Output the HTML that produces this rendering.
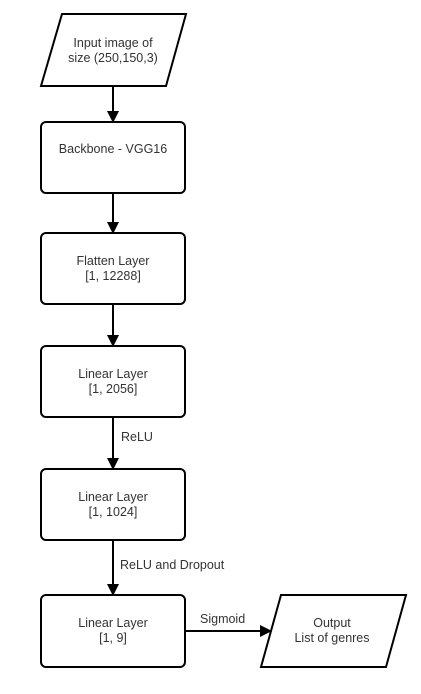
<!DOCTYPE html>
<html><head><style>body{margin:0;background:#fff}</style></head><body>
<svg width="421" height="689" xmlns="http://www.w3.org/2000/svg" font-family="Liberation Sans, Arial, sans-serif" font-size="12.5" fill="#333">
<defs><marker id="a" markerWidth="12" markerHeight="12" refX="10" refY="6" orient="auto" markerUnits="userSpaceOnUse"><path d="M0,0 L12,6 L0,12 Z" fill="#000"/></marker></defs>
<g stroke="#000" stroke-width="2" fill="#fff">
<polygon points="62,14 186,14 166,86 41,86"/>
<rect x="41" y="122" width="144" height="71" rx="5"/>
<rect x="41" y="233" width="144" height="71" rx="5"/>
<rect x="41" y="346" width="144" height="71" rx="5"/>
<rect x="41" y="469" width="144" height="71" rx="5"/>
<rect x="41" y="595" width="144" height="72" rx="5"/>
<polygon points="281,595 406,595 386,667 261,667"/>
</g>
<g stroke="#000" stroke-width="2" marker-end="url(#a)">
<line x1="113" y1="86" x2="113" y2="121"/>
<line x1="113" y1="193" x2="113" y2="232"/>
<line x1="113" y1="304" x2="113" y2="345"/>
<line x1="113" y1="417" x2="113" y2="468"/>
<line x1="113" y1="540" x2="113" y2="594"/>
<line x1="185" y1="631" x2="270" y2="631"/>
</g>
<g text-anchor="middle">
<text x="113" y="47">Input image of</text><text x="113" y="62">size (250,150,3)</text>
<text x="113" y="153">Backbone - VGG16</text>
<text x="113" y="265">Flatten Layer</text><text x="113" y="280">[1, 12288]</text>
<text x="113" y="378">Linear Layer</text><text x="113" y="393">[1, 2056]</text>
<text x="113" y="501">Linear Layer</text><text x="113" y="516">[1, 1024]</text>
<text x="113" y="627">Linear Layer</text><text x="113" y="642">[1, 9]</text>
<text x="332" y="627">Output</text><text x="332" y="642">List of genres</text>
</g>
<text x="121" y="441">ReLU</text>
<text x="120" y="569">ReLU and Dropout</text>
<text x="200" y="623">Sigmoid</text>
</svg>
</body></html>
